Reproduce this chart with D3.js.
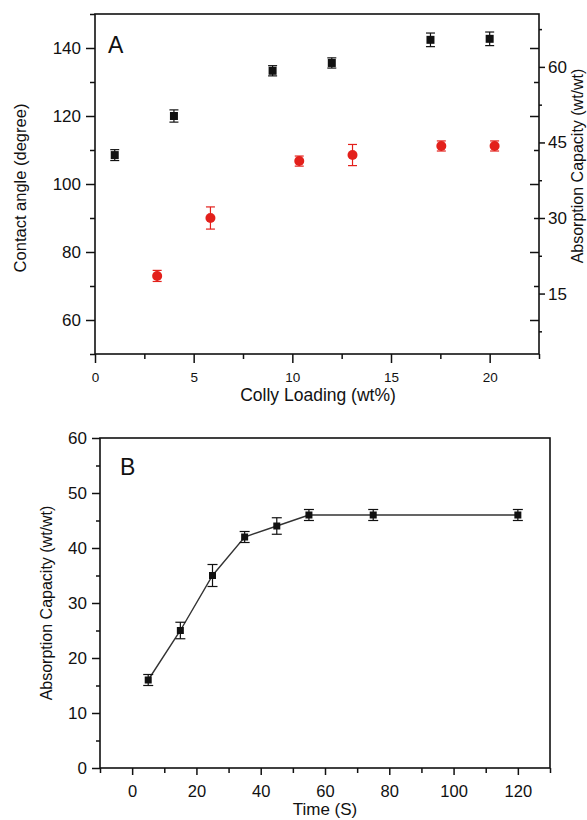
<!DOCTYPE html>
<html>
<head>
<meta charset="utf-8">
<script src="https://cdn.jsdelivr.net/npm/d3@7"></script>
<style>
  html, body { margin: 0; padding: 0; background: #fff; }
  svg { display: block; }
  text { font-family: "Liberation Sans", Arial, sans-serif; fill: #111; }
</style>
</head>
<body>
<svg id="chart" width="587" height="820"></svg>
<script>
// ---------- Data ----------
// Panel A
const loadingBlack = [1, 4, 9, 12, 17, 20];
const contactAngle = [108.5, 120, 133.3, 135.6, 142.4, 142.7];
const contactErr = [1.6, 1.8, 1.5, 1.5, 2.0, 2.0];
const loadingRed = [3.15, 5.85, 10.35, 13.05, 17.55, 20.25];
const absorptionA = [18.5, 30.0, 41.3, 42.5, 44.3, 44.3];
const absorptionErrA = [1.1, 2.2, 1.0, 2.1, 1.0, 1.0];
const xTicksA = [0, 5, 10, 15, 20];
const yLeftTicksA = [60, 80, 100, 120, 140];
const yRightTicksA = [15, 30, 45, 60];
// Panel B
const timeB = [5, 15, 25, 35, 45, 55, 75, 120];
const absorptionB = [16, 25, 35, 42, 44, 46, 46, 46];
const absorptionErrB = [1.0, 1.5, 2.0, 1.0, 1.5, 1.0, 1.0, 1.0];
const xTicksB = [0, 20, 40, 60, 80, 100, 120];
const yTicksB = [0, 10, 20, 30, 40, 50, 60];

const svg = d3.select("#chart");
const RED = "#e3201b";

function minorBetween(major, step, lo, hi) {
  const out = [];
  for (let v = lo; v <= hi + 1e-9; v += step) {
    if (!major.some(m => Math.abs(m - v) < 1e-9)) out.push(+v.toFixed(4));
  }
  return out;
}

function styleAxis(g) {
  g.select(".domain").remove();
  g.selectAll("line").attr("stroke", "#111").attr("stroke-width", 1.5);
}

// ---------- Panel A ----------
const A = {l: 95, r: 539, t: 14, b: 354};
const xA = d3.scaleLinear().domain([0, 22.5]).range([A.l, A.r]);
const yLA = d3.scaleLinear().domain([50, 150]).range([A.b, A.t]);
const yRA = d3.scaleLinear().domain([3, 70.5]).range([A.b, A.t]);

const gA = svg.append("g");

// bottom axis
gA.append("g").attr("transform", `translate(0,${A.b})`)
  .call(d3.axisBottom(xA).tickValues(xTicksA).tickSize(9).tickPadding(9).tickFormat(d3.format("d")))
  .call(styleAxis)
  .call(g => g.selectAll("text").style("font-size", "13.5px").attr("fill", "#111"));
gA.append("g").attr("transform", `translate(0,${A.b})`)
  .call(d3.axisBottom(xA).tickValues(minorBetween(xTicksA, 2.5, 2.5, 22.5)).tickSize(5).tickFormat(""))
  .call(styleAxis);

// left axis
gA.append("g").attr("transform", `translate(${A.l},0)`)
  .call(d3.axisLeft(yLA).tickValues(yLeftTicksA).tickSize(9).tickPadding(5).tickFormat(d3.format("d")))
  .call(styleAxis)
  .call(g => g.selectAll("text").style("font-size", "17px").attr("fill", "#111"));
gA.append("g").attr("transform", `translate(${A.l},0)`)
  .call(d3.axisLeft(yLA).tickValues(minorBetween(yLeftTicksA, 10, 50, 150)).tickSize(5).tickFormat(""))
  .call(styleAxis);

// mirrored left ticks on right side (inward)
gA.append("g").attr("transform", `translate(${A.r},0)`)
  .call(d3.axisLeft(yLA).tickValues(yLeftTicksA).tickSize(9).tickFormat(""))
  .call(styleAxis);
gA.append("g").attr("transform", `translate(${A.r},0)`)
  .call(d3.axisLeft(yLA).tickValues(minorBetween(yLeftTicksA, 10, 60, 140)).tickSize(5).tickFormat(""))
  .call(styleAxis);

// right axis (outward)
gA.append("g").attr("transform", `translate(${A.r},0)`)
  .call(d3.axisRight(yRA).tickValues(yRightTicksA).tickSize(6).tickPadding(3).tickFormat(d3.format("d")))
  .call(styleAxis)
  .call(g => g.selectAll("text").style("font-size", "17px").attr("fill", "#111"));
gA.append("g").attr("transform", `translate(${A.r},0)`)
  .call(d3.axisRight(yRA).tickValues([7.5, 22.5, 37.5, 52.5, 67.5]).tickSize(3).tickFormat(""))
  .call(styleAxis);

// frame
gA.append("rect").attr("x", A.l).attr("y", A.t).attr("width", A.r - A.l).attr("height", A.b - A.t)
  .attr("fill", "none").attr("stroke", "#111").attr("stroke-width", 1.6);

const blackData = loadingBlack.map((x, i) => ({x, y: contactAngle[i], e: contactErr[i]}));
const redData = loadingRed.map((x, i) => ({x, y: absorptionA[i], e: absorptionErrA[i]}));

function errBars(g, data, xs, ys, color, cap) {
  const eb = g.append("g").attr("stroke", color).attr("stroke-width", 1.2);
  data.forEach(d => {
    const x = xs(d.x), y1 = ys(d.y - d.e), y2 = ys(d.y + d.e);
    eb.append("line").attr("x1", x).attr("x2", x).attr("y1", y1).attr("y2", y2);
    eb.append("line").attr("x1", x - cap / 2).attr("x2", x + cap / 2).attr("y1", y1).attr("y2", y1);
    eb.append("line").attr("x1", x - cap / 2).attr("x2", x + cap / 2).attr("y1", y2).attr("y2", y2);
  });
}
errBars(gA, blackData, xA, yLA, "#111", 9);
errBars(gA, redData, xA, yRA, RED, 9);

gA.append("g").selectAll("rect").data(blackData).join("rect")
  .attr("x", d => xA(d.x) - 4).attr("y", d => yLA(d.y) - 4)
  .attr("width", 8).attr("height", 8).attr("fill", "#111");
gA.append("g").selectAll("circle").data(redData).join("circle")
  .attr("cx", d => xA(d.x)).attr("cy", d => yRA(d.y)).attr("r", 5).attr("fill", RED);

gA.append("text").attr("x", 108).attr("y", 53).style("font-size", "23px").text("A");
gA.append("text").attr("x", (A.l + A.r) / 2 + 1).attr("y", 401).attr("text-anchor", "middle")
  .style("font-size", "17.5px").text("Colly Loading (wt%)");
gA.append("text").attr("transform", `translate(26,${(A.t + A.b) / 2 + 4}) rotate(-90)`)
  .attr("text-anchor", "middle").style("font-size", "16.5px").text("Contact angle (degree)");
gA.append("text").attr("transform", `translate(583,166) rotate(-90)`)
  .attr("text-anchor", "middle").style("font-size", "16px").text("Absorption Capacity (wt/wt)");

// ---------- Panel B ----------
const B = {l: 100, r: 550, t: 438, b: 768};
const xB = d3.scaleLinear().domain([-10, 130]).range([B.l, B.r]);
const yB = d3.scaleLinear().domain([0, 60]).range([B.b, B.t]);
const gB = svg.append("g");

gB.append("g").attr("transform", `translate(0,${B.b})`)
  .call(d3.axisBottom(xB).tickValues(xTicksB).tickSize(7).tickPadding(10).tickFormat(d3.format("d")))
  .call(styleAxis)
  .call(g => g.selectAll("text").style("font-size", "16.5px").attr("fill", "#111"));
gB.append("g").attr("transform", `translate(0,${B.b})`)
  .call(d3.axisBottom(xB).tickValues(minorBetween(xTicksB, 10, -10, 130)).tickSize(5).tickFormat(""))
  .call(styleAxis);

gB.append("g").attr("transform", `translate(${B.l},0)`)
  .call(d3.axisLeft(yB).tickValues(yTicksB).tickSize(8).tickPadding(5).tickFormat(d3.format("d")))
  .call(styleAxis)
  .call(g => g.selectAll("text").style("font-size", "17px").attr("fill", "#111"));
gB.append("g").attr("transform", `translate(${B.l},0)`)
  .call(d3.axisLeft(yB).tickValues(minorBetween(yTicksB, 5, 0, 60)).tickSize(4).tickFormat(""))
  .call(styleAxis);

gB.append("rect").attr("x", B.l).attr("y", B.t).attr("width", B.r - B.l).attr("height", B.b - B.t)
  .attr("fill", "none").attr("stroke", "#111").attr("stroke-width", 1.6);

const dataB = timeB.map((x, i) => ({x, y: absorptionB[i], e: absorptionErrB[i]}));
gB.append("path").datum(dataB)
  .attr("d", d3.line().x(d => xB(d.x)).y(d => yB(d.y)))
  .attr("fill", "none").attr("stroke", "#333").attr("stroke-width", 1.4);
errBars(gB, dataB, xB, yB, "#111", 10);
gB.append("g").selectAll("rect").data(dataB).join("rect")
  .attr("x", d => xB(d.x) - 3.5).attr("y", d => yB(d.y) - 3.5)
  .attr("width", 7).attr("height", 7).attr("fill", "#111");

gB.append("text").attr("x", 120).attr("y", 475).style("font-size", "23px").text("B");
gB.append("text").attr("x", (B.l + B.r) / 2).attr("y", 815).attr("text-anchor", "middle")
  .style("font-size", "17px").text("Time (S)");
gB.append("text").attr("transform", `translate(52,${(B.t + B.b) / 2}) rotate(-90)`)
  .attr("text-anchor", "middle").style("font-size", "16px").text("Absorption Capacity (wt/wt)");
</script>
</body>
</html>
